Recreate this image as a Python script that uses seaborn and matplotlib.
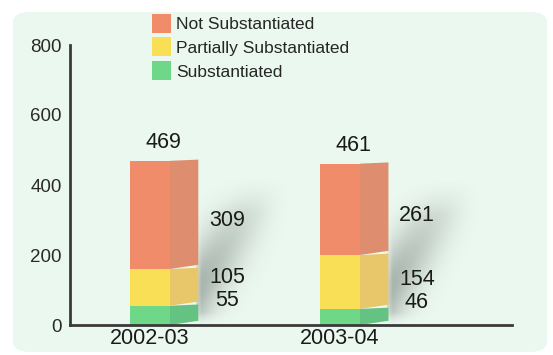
import numpy as np
import pandas as pd
import seaborn as sns
import matplotlib
matplotlib.use('Agg')
import matplotlib.pyplot as plt
from matplotlib.patches import FancyBboxPatch, Patch, Polygon

# Daten
years = ['2002-03', '2003-04']
substantiated = [55, 46]
partially = [105, 154]
not_substantiated = [309, 261]
totals = [469, 461]

series_names = ['Not Substantiated', 'Partially Substantiated', 'Substantiated']
front_colors = ['#f08c69', '#f8df55', '#6fd888']
side_colors = ['#de8d6e', '#e8c66a', '#64c283']

sns.set_style('white')
plt.rcParams['font.family'] = ['Liberation Sans', 'DejaVu Sans']

fig = plt.figure(figsize=(5.53, 3.55), dpi=100)
fig.patch.set_facecolor('white')

# heller Hintergrund mit runden Ecken
bg = FancyBboxPatch((13 / 553, 3 / 355), 534 / 553, 340 / 355,
                    boxstyle='round,pad=0,rounding_size=0.03',
                    transform=fig.transFigure, facecolor='#ebf8ef',
                    edgecolor='none', zorder=-5)
fig.patches.append(bg)

ax = fig.add_axes([70 / 553, 30 / 355, 442 / 553, 280 / 355])
ax.set_facecolor('none')
ax.set_zorder(2)

df = pd.DataFrame({'year': years,
                   'sub': substantiated,
                   'part': partially,
                   'nots': not_substantiated})
df['c1'] = df['sub']
df['c2'] = df['sub'] + df['part']
df['c3'] = df['c2'] + df['nots']

width = 0.21
depth = 0.15
rise = 12  # schraege Unterkante der Seitenflaeche (y-Einheiten)

# weicher Schatten rechts hinter den Saeulen
uu, vv = np.meshgrid(np.linspace(0, 1, 200), np.linspace(0, 1, 200))
d = vv - (0.22 + 0.9 * uu)
alpha = 0.5 * np.exp(-(d / 0.3) ** 2) * np.clip(1 - uu, 0, 1) ** 1.2
alpha *= np.clip(uu * 10 + 0.4, 0, 1)
alpha *= np.clip((1 - vv) * 4, 0, 1) * np.clip(vv * 12, 0, 1)
shade = np.zeros((200, 200, 4))
shade[..., :3] = np.array([0.36, 0.40, 0.38])
shade[..., 3] = alpha
for i, row in df.iterrows():
    x1 = i + width / 2 + depth - 0.01
    ax.imshow(shade, origin='lower', aspect='auto', interpolation='bilinear',
              extent=[x1, x1 + 0.5, 0, row['c3'] * 0.9], zorder=1)

# Vorderseiten mit seaborn (gestapelt ueber kumulierte Werte)
for col, colr in zip(['c3', 'c2', 'c1'], front_colors):
    sns.barplot(data=df, x='year', y=col, color=colr, width=width,
                saturation=1, linewidth=0, ax=ax, zorder=3)

# Seitenflaechen
for i, row in df.iterrows():
    x1 = i + width / 2
    levels = [0, row['c1'], row['c2'], row['c3']]
    for lo, hi, colr in zip(levels[:-1], levels[1:], side_colors[::-1]):
        side = Polygon([(x1, lo), (x1 + depth, lo + rise),
                        (x1 + depth, hi + rise * 0.3), (x1, hi)],
                       closed=True, facecolor=colr, edgecolor='none', zorder=2)
        ax.add_patch(side)

# Werte
for i, row in df.iterrows():
    ax.text(i + 0.07, row['c3'] + 52, str(totals[i]), ha='center',
            va='center', fontsize=15.5, color='#1a1a1a')
lab_dx = 0.405
lab_y = [[71, 137, 300], [63, 131, 314]]
for i in range(len(years)):
    vals = [substantiated[i], partially[i], not_substantiated[i]]
    for v, yy in zip(vals, lab_y[i]):
        ax.text(i + lab_dx, yy, str(v), ha='center', va='center',
                fontsize=15.5, color='#1a1a1a')

ax.set_xlim(-0.42, 1.905)
ax.set_ylim(0, 800)
ax.set_yticks([0, 200, 400, 600, 800])
ax.tick_params(axis='y', direction='in', length=4, width=1.2,
               labelsize=13.5, colors='#2a2a2a', pad=6)
ax.tick_params(axis='x', length=0, labelsize=15.5, colors='#1a1a1a', pad=2)
ax.set_xlabel('')
ax.set_ylabel('')
for s in ['top', 'right']:
    ax.spines[s].set_visible(False)
for s in ['left', 'bottom']:
    ax.spines[s].set_color('#3a3a3a')
    ax.spines[s].set_linewidth(2)
    ax.spines[s].set_zorder(4)

# Legende
handles = [Patch(facecolor=c, edgecolor='none') for c in front_colors]
fig.legend(handles, series_names, loc='upper left',
           bbox_to_anchor=(143 / 553, 1 - 5 / 355), frameon=False,
           fontsize=12.5, handlelength=1.1, handleheight=1.3,
           handletextpad=0.3, labelspacing=0.28, borderpad=0)

plt.savefig('out.png', dpi=100, facecolor='white')
